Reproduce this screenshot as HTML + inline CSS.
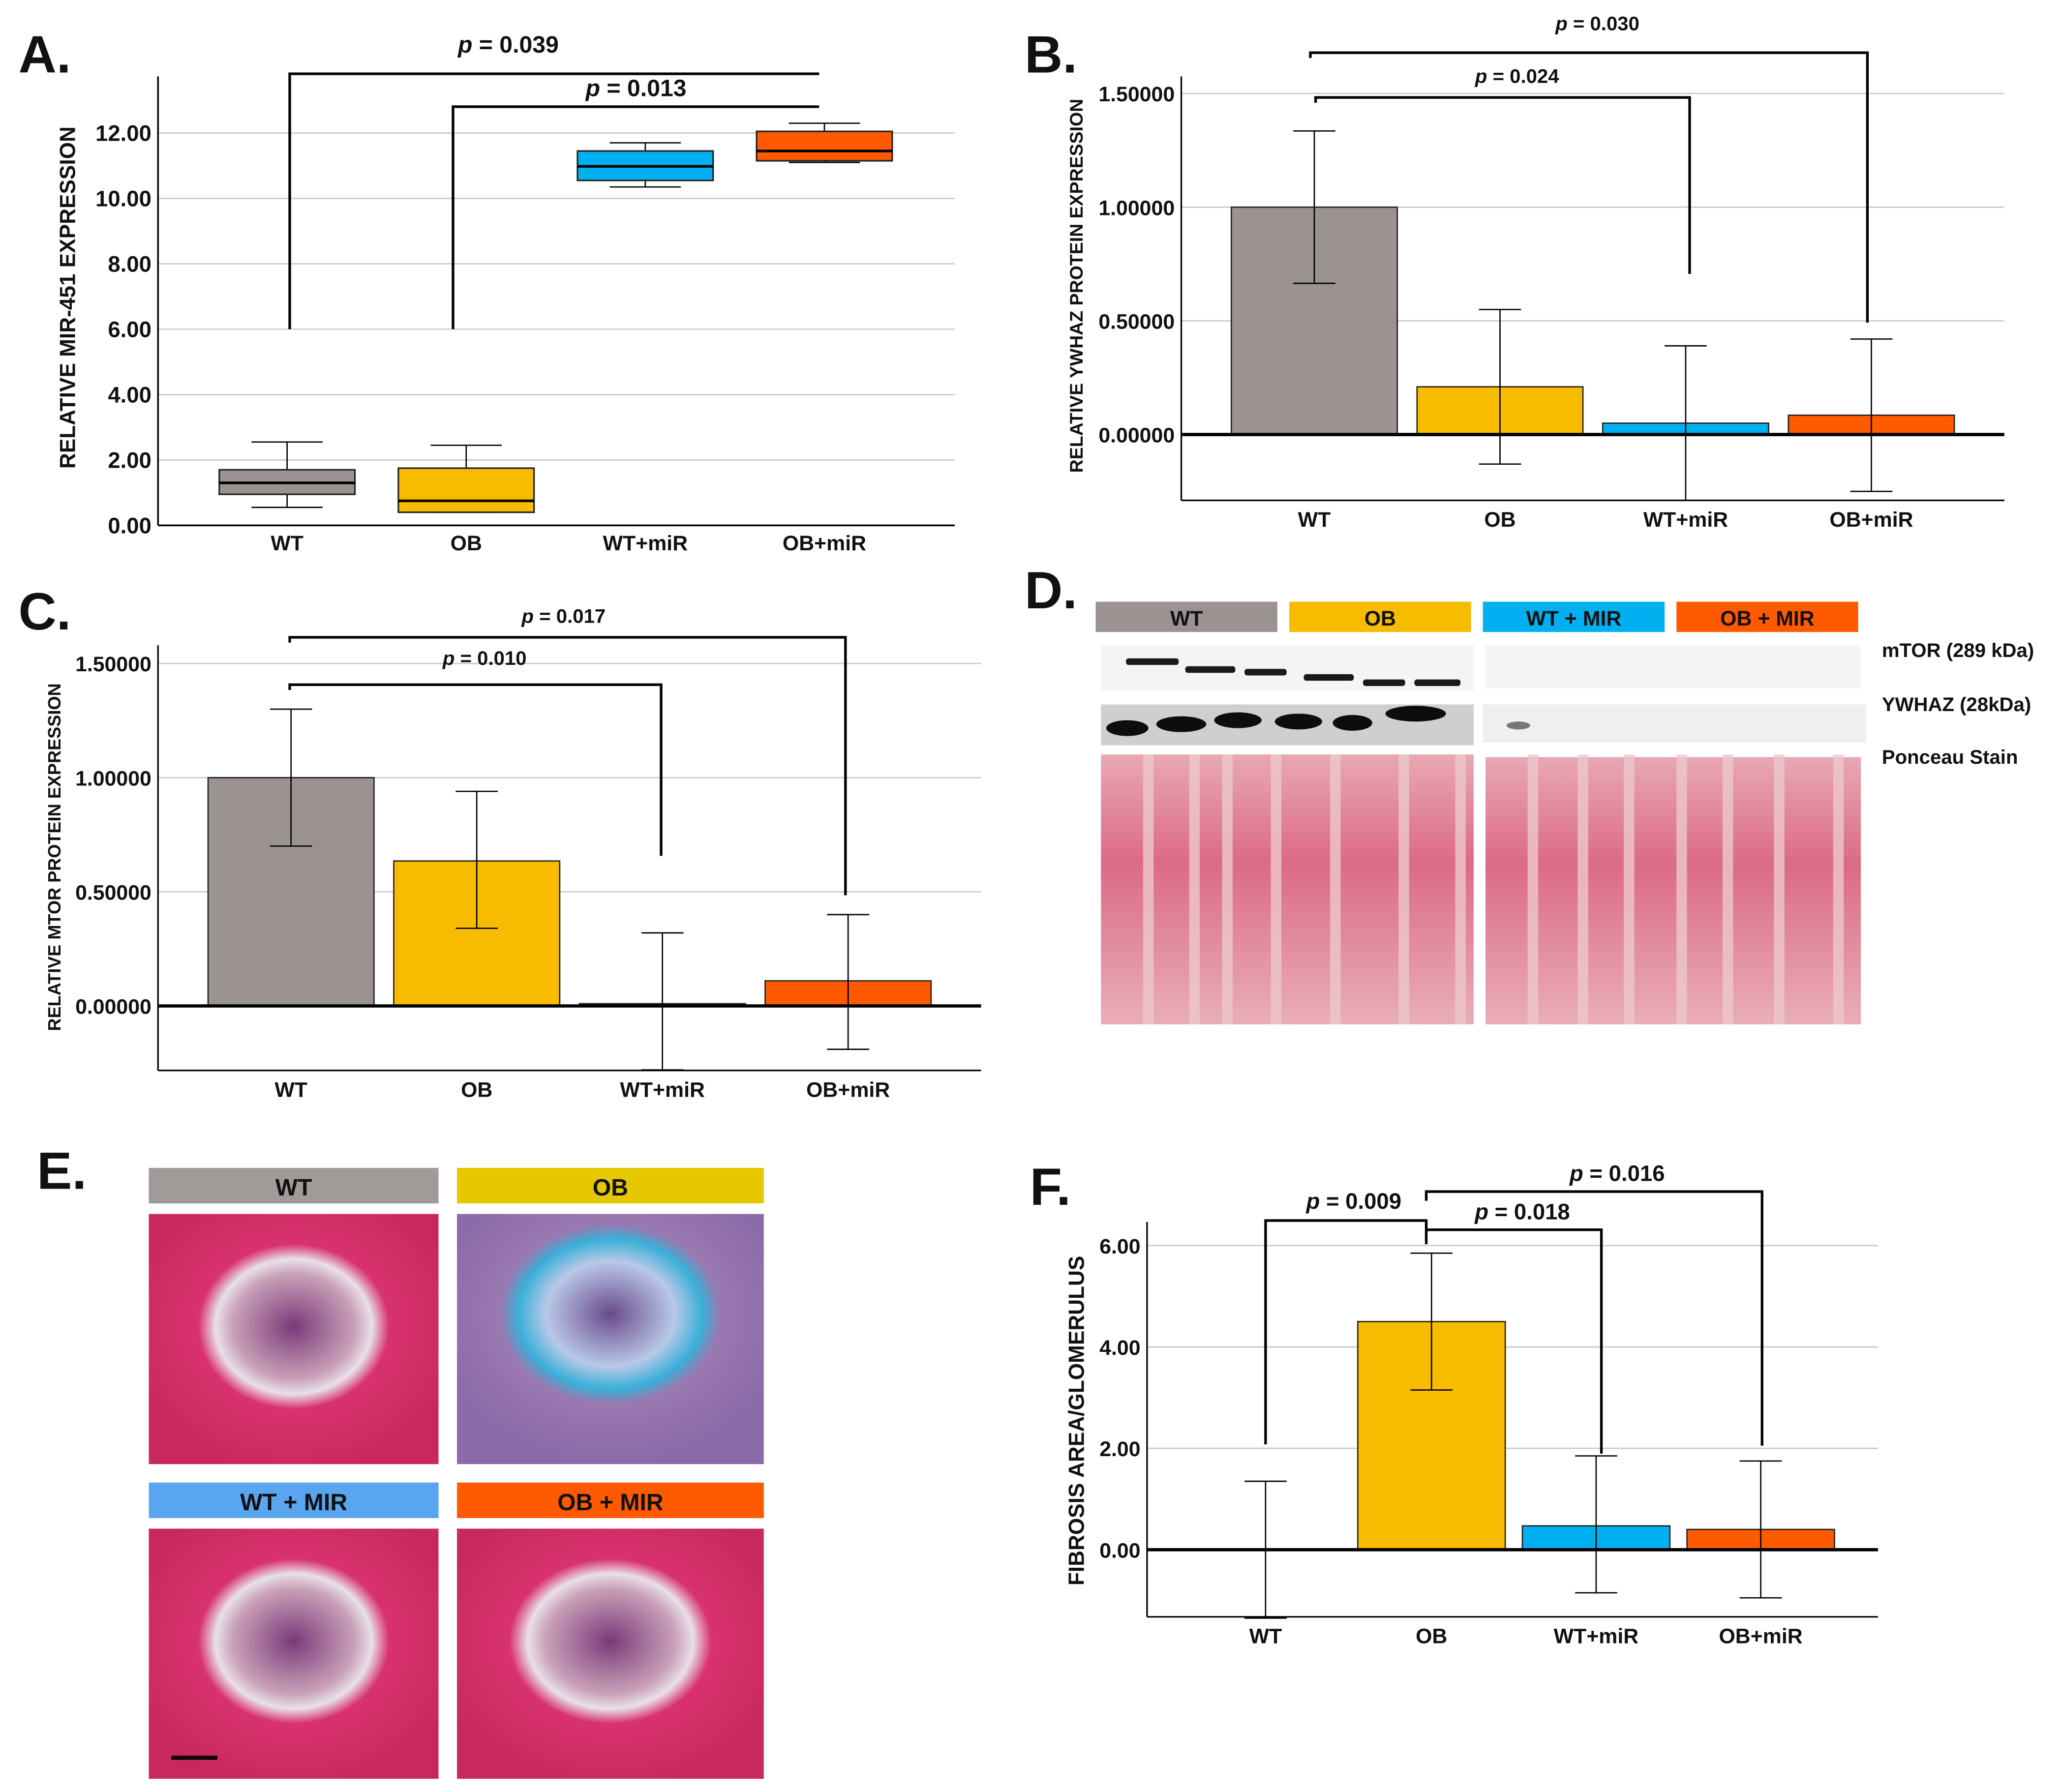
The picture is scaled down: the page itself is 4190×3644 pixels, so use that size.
<!DOCTYPE html>
<html><head><meta charset="utf-8"><style>
html,body{margin:0;padding:0;background:#fff}
svg{display:block}
text{font-family:"Liberation Sans Narrow","Liberation Sans",sans-serif;font-weight:bold;fill:#111}
.ax{font-family:"Liberation Sans",sans-serif;font-weight:bold}
</style></head><body>
<svg id="fig" width="4190" height="3644" viewBox="0 0 1565 1361" xmlns="http://www.w3.org/2000/svg">
<defs>
<linearGradient id="pon" x1="0" y1="0" x2="0" y2="1"><stop offset="0" stop-color="#e8a8b4"/><stop offset="0.4" stop-color="#dc6a85"/><stop offset="1" stop-color="#e9aeb8"/></linearGradient>
<radialGradient id="he" cx="0.5" cy="0.45" r="0.6"><stop offset="0" stop-color="#7a3a7a"/><stop offset="0.35" stop-color="#c9a0b8"/><stop offset="0.45" stop-color="#e8e0e8"/><stop offset="0.55" stop-color="#d8326e"/><stop offset="1" stop-color="#c8285e"/></radialGradient>
<radialGradient id="heob" cx="0.5" cy="0.4" r="0.6"><stop offset="0" stop-color="#6a4a8a"/><stop offset="0.35" stop-color="#b9c8e8"/><stop offset="0.5" stop-color="#3ab0d8"/><stop offset="0.6" stop-color="#9a78b0"/><stop offset="1" stop-color="#8a6aa8"/></radialGradient>
</defs>
<g id="root"></g>
</svg>
<script>
const NS="http://www.w3.org/2000/svg";
const root=document.getElementById('root');
function el(tag,attrs,parent,txt){const e=document.createElementNS(NS,tag);for(const k in attrs)e.setAttribute(k,attrs[k]);if(txt!==undefined)e.textContent=txt;(parent||root).appendChild(e);return e;}
const COLORS=['#9b9391','#f7bb00','#00b0f0','#ff5a00'];

// ---------- Panel A data ----------
const aCats=['WT','OB','WT+miR','OB+miR'];
const aWhiskLo=[0.55,0.4,10.35,11.1];
const aQ1=[0.95,0.4,10.55,11.15];
const aMed=[1.3,0.75,10.98,11.45];
const aQ3=[1.7,1.75,11.45,12.05];
const aWhiskHi=[2.55,2.45,11.7,12.3];
const aTicks=['0.00','2.00','4.00','6.00','8.00','10.00','12.00'];

// ---------- Panel B ----------
const bCats=['WT','OB','WT+miR','OB+miR'];
const bVals=[1.0,0.21,0.05,0.085];
const bLo=[0.665,-0.13,-0.29,-0.25];
const bHi=[1.335,0.55,0.39,0.42];
const bTicks=['0.00000','0.50000','1.00000','1.50000'];

// ---------- Panel C ----------
const cCats=['WT','OB','WT+miR','OB+miR'];
const cVals=[1.0,0.635,0.01,0.11];
const cLo=[0.70,0.34,-0.28,-0.19];
const cHi=[1.30,0.94,0.32,0.40];
const cTicks=['0.00000','0.50000','1.00000','1.50000'];

// ---------- Panel F ----------
const fCats=['WT','OB','WT+miR','OB+miR'];
const fVals=[0,4.5,0.47,0.4];
const fLo=[-1.35,3.15,-0.85,-0.95];
const fHi=[1.35,5.85,1.85,1.75];
const fTicks=['0.00','2.00','4.00','6.00'];

function g(name){const e=el('g',{});return e;}
function line(p,x1,y1,x2,y2,c,w){return el('line',{x1,y1,x2,y2,stroke:c||'#000','stroke-width':w||1},p);}
function txt(p,x,y,s,size,anchor,extra){const t=el('text',Object.assign({x,y,'font-size':size,'text-anchor':anchor||'middle'},extra||{}),p,s);return t;}
function ptext(p,x,y,val,size){const t=el('text',{x,y,'font-size':size,'text-anchor':'middle'},p);el('tspan',{'font-style':'italic'},t,'p');el('tspan',{},t,' = '+val);return t;}
function bracket(p,x1,yl,x2,yr,ytop){return el('polyline',{points:`${x1},${yl} ${x1},${ytop} ${x2},${ytop} ${x2},${yr}`,fill:'none',stroke:'#000','stroke-width':2},p);}

function letter(s,x,y){const t=txt(root,x,y,s,40,'start',{class:'ax'});}
letter('A.',14,55);letter('B.',778,55);letter('C.',14,478);letter('D.',778,462);letter('E.',28,903);letter('F.',782,915);

// ===== Panel A =====
(function(){
const P=g('panel-a-boxplot');
const x0=120,x1=725,yb=399,yt=58;const ys=v=>yb-v*(298/12);
const xs=i=>218+i*136;
aTicks.forEach(t=>{const v=+t;const y=ys(v);if(v>0)line(P,x0,y,x1,y,'#c8c8c8',1);const l=txt(P,x0-5,y+6,t,17,'end');});
line(P,x0,yt,x0,yb,'#000',1.3);line(P,x0,yb,x1,yb,'#000',1.3);
const yl=txt(P,0,0,'RELATIVE MIR-451 EXPRESSION',16.5,'middle',{class:'ax',transform:`translate(57,226) rotate(-90)`});

aCats.forEach((c,i)=>{const cx=xs(i);const w=103;
const b=g('box-'+c.toLowerCase().replace('+','-'));P.appendChild(b);
line(b,cx,ys(aWhiskLo[i]),cx,ys(aQ1[i]));line(b,cx,ys(aQ3[i]),cx,ys(aWhiskHi[i]));
line(b,cx-27,ys(aWhiskLo[i]),cx+27,ys(aWhiskLo[i]));line(b,cx-27,ys(aWhiskHi[i]),cx+27,ys(aWhiskHi[i]));
el('rect',{x:cx-w/2,y:ys(aQ3[i]),width:w,height:ys(aQ1[i])-ys(aQ3[i]),fill:COLORS[i],stroke:'#222','stroke-width':1.2},b);
line(b,cx-w/2,ys(aMed[i]),cx+w/2,ys(aMed[i]),'#000',2);
const l=txt(P,cx,418,c,16);});
const br=g('significance-brackets-a');P.appendChild(br);
bracket(br,220,250,622,56,56);ptext(br,386,40,'0.039',18);
bracket(br,344,250,622,81,81);ptext(br,483,73,'0.013',18);
})();

function barChart(name,o){
const P=g(name);
const ys=v=>o.y0-v*o.k;
o.ticks.forEach(t=>{const v=+t;const y=ys(v);if(v!==0)line(P,o.x0,y,o.x1,y,'#c8c8c8',1);const l=txt(P,o.x0-5,y+6,t,16,'end');});
line(P,o.x0,o.yt,o.x0,o.yb,'#000',1.2);line(P,o.x0,o.yb,o.x1,o.yb,'#000',1.2);
const yl=txt(P,0,0,o.ylabel,o.ylsize||13,'middle',{class:'ax',transform:`translate(${o.ylx},${o.ylc}) rotate(-90)`});

o.cats.forEach((c,i)=>{const cx=o.cx[i];const w=o.bw;
const b=g('bar-'+c.toLowerCase().replace('+','-'));P.appendChild(b);
const v=o.vals[i];if(v!==0)el('rect',{x:cx-w/2,y:Math.min(ys(v),o.y0),width:w,height:Math.abs(ys(v)-o.y0),fill:COLORS[i],stroke:'#222','stroke-width':1},b);
const e=g('error-bar');b.appendChild(e);
line(e,cx,ys(o.lo[i]),cx,ys(o.hi[i]));line(e,cx-16,ys(o.lo[i]),cx+16,ys(o.lo[i]));line(e,cx-16,ys(o.hi[i]),cx+16,ys(o.hi[i]));
const l=txt(P,cx,o.yb+20,c,16);});
line(P,o.x0,o.y0,o.x1,o.y0,'#000',2.5);
return {P,ys};}

(function(){
const r=barChart('panel-b-ywhaz-bar',{x0:897,x1:1522,y0:330,k:172.7,yt:58,yb:380,ticks:bTicks,cats:bCats,vals:bVals,lo:bLo,hi:bHi,cx:[998,1139,1280,1421],bw:126,ylabel:'RELATIVE YWHAZ PROTEIN EXPRESSION',ylx:822,ylc:217,ylsize:14});
const br=g('significance-brackets-b');r.P.appendChild(br);
bracket(br,999,78,1283,208,74);ptext(br,1152,63,'0.024',15);
bracket(br,995,44,1418,245,40);ptext(br,1213,23,'0.030',15);
})();

(function(){
const r=barChart('panel-c-mtor-bar',{x0:120,x1:745,y0:764,k:173.4,yt:490,yb:813,ticks:cTicks,cats:cCats,vals:cVals,lo:cLo,hi:cHi,cx:[221,362,503,644],bw:126,ylabel:'RELATIVE MTOR PROTEIN EXPRESSION',ylx:46,ylc:651,ylsize:13.5});
const br=g('significance-brackets-c');r.P.appendChild(br);
bracket(br,220,524,502,650,520);ptext(br,368,505,'0.010',15);
bracket(br,220,488,642,680,484);ptext(br,428,473,'0.017',15);
})();

(function(){
const r=barChart('panel-f-fibrosis-bar',{x0:871,x1:1426,y0:1177,k:38.5,yt:928,yb:1228,ticks:fTicks,cats:fCats,vals:fVals,lo:fLo,hi:fHi,cx:[961,1087,1212,1337],bw:112,ylabel:'FIBROSIS AREA/GLOMERULUS',ylx:823,ylc:1079,ylsize:16.5});
const br=g('significance-brackets-f');r.P.appendChild(br);
bracket(br,961,1097,1083,945,927);ptext(br,1028,918,'0.009',17);
bracket(br,1083,934,1216,1104,934);ptext(br,1156,926,'0.018',17);
bracket(br,1083,912,1338,1098,905);ptext(br,1228,897,'0.016',17);
})();

(function(){
const P=g('panel-d-western-blot');
const labs=['WT','OB','WT + MIR','OB + MIR'];const lx=[832,979,1126,1273];
labs.forEach((s,i)=>{const r=el('rect',{x:lx[i],y:457,width:138,height:23,fill:COLORS[i]},P);txt(P,lx[i]+69,475,s,16);});
el('rect',{x:836,y:490,width:283,height:35,fill:'#f4f4f4'},P);
el('rect',{x:1128,y:490,width:285,height:33,fill:'#f5f5f5'},P);
[[855,502,40],[900,508,38],[945,510,32],[990,514,38],[1035,518,32],[1074,518,35]].forEach(b=>el('rect',{x:b[0],y:b[1]-2,width:b[2],height:5,rx:2,fill:'#1a1a1a'},P));
el('rect',{x:836,y:535,width:283,height:31,fill:'#cfcfcf'},P);
el('rect',{x:1126,y:535,width:291,height:29,fill:'#efefef'},P);
[[840,553,32],[878,550,38],[922,547,36],[968,548,36],[1012,549,30],[1052,542,46]].forEach(b=>el('ellipse',{cx:b[0]+b[2]/2,cy:b[1],rx:b[2]/2,ry:6,fill:'#0d0d0d'},P));
el('ellipse',{cx:1153,cy:551,rx:9,ry:3,fill:'#777'},P);
el('rect',{x:836,y:573,width:283,height:205,fill:'url(#pon)'},P);
el('rect',{x:1128,y:575,width:285,height:203,fill:'url(#pon)'},P);
[868,903,928,965,1010,1062,1105,1160,1198,1233,1273,1308,1347,1392].forEach(x=>el('rect',{x:x,y:573,width:8,height:205,fill:'#ecc8cc',opacity:0.8},P));
txt(P,1429,499,'mTOR (289 kDa)',15,'start');txt(P,1429,540,'YWHAZ (28kDa)',15,'start');txt(P,1429,580,'Ponceau Stain',15,'start');
})();

(function(){
const P=g('panel-e-histology');
const boxes=[[113,887,220,'WT',0,922,'url(#he)'],[347,887,233,'OB',1,922,'url(#heob)'],[113,1126,220,'WT + MIR',2,1161,'url(#he)'],[347,1126,233,'OB + MIR',3,1161,'url(#he)']];
const ecol=['#a09a98','#e6c800','#5aa5f0','#ff5a00'];
boxes.forEach(b=>{const r=el('rect',{x:b[0],y:b[1],width:b[2],height:27,fill:ecol[b[4]]},P);
txt(P,b[0]+b[2]/2,b[1]+21,b[3],18,'middle',{class:'ax'});
const im=el('rect',{x:b[0],y:b[5],width:b[2],height:190,fill:b[6]},P);});
line(P,130,1335,165,1335,'#000',3);
})();
</script>
</body></html>
